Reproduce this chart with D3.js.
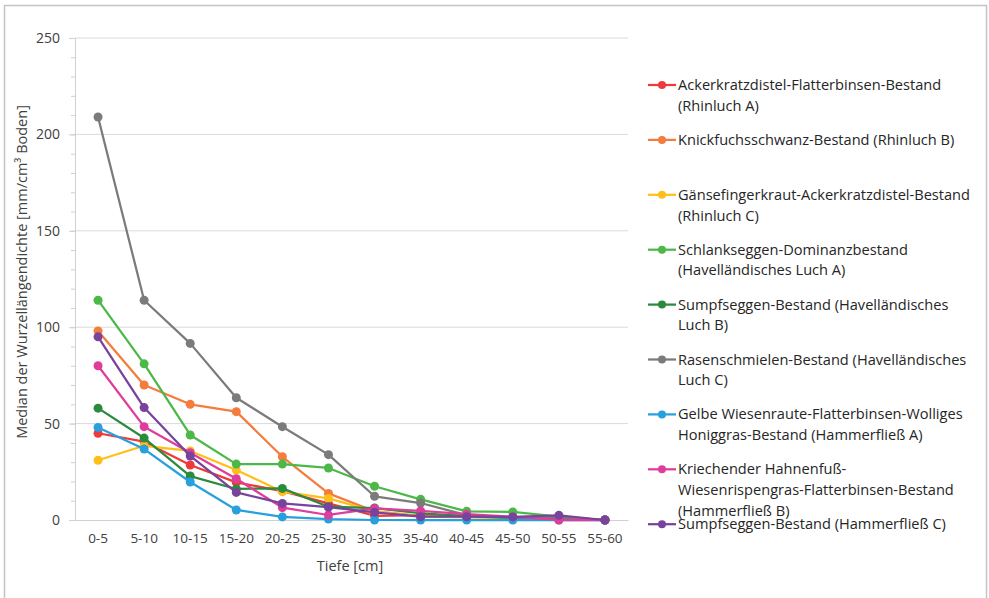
<!DOCTYPE html>
<html>
<head>
<meta charset="utf-8">
<script src="https://cdn.jsdelivr.net/npm/d3@7"></script>
<style>
  body { margin: 0; background: #fff; }
  svg { font-family: "Open Sans", "Noto Sans", sans-serif; }
</style>
</head>
<body>
<svg id="chart" width="989" height="598"></svg>
<script>
// depth classes on the x axis
var depths = ["0-5", "5-10", "10-15", "15-20", "20-25", "25-30", "30-35", "35-40", "40-45", "45-50", "50-55", "55-60"];
var yTicks = [0, 50, 100, 150, 200, 250];

// series names (legend lines split with \n)
var names = [
  "Ackerkratzdistel-Flatterbinsen-Bestand\n(Rhinluch A)",
  "Knickfuchsschwanz-Bestand (Rhinluch B)",
  "Gänsefingerkraut-Ackerkratzdistel-Bestand\n(Rhinluch C)",
  "Schlankseggen-Dominanzbestand\n(Havelländisches Luch A)",
  "Sumpfseggen-Bestand (Havelländisches\nLuch B)",
  "Rasenschmielen-Bestand (Havelländisches\nLuch C)",
  "Gelbe Wiesenraute-Flatterbinsen-Wolliges\nHoniggras-Bestand (Hammerfließ A)",
  "Kriechender Hahnenfuß-\nWiesenrispengras-Flatterbinsen-Bestand\n(Hammerfließ B)",
  "Sumpfseggen-Bestand (Hammerfließ C)"
];
var colors = ["#ee3a3a", "#f47c3c", "#ffbf1a", "#4cb848", "#2a8a3e", "#7b7b7b", "#27a0dd", "#df3d9b", "#77439c"];

// median root length density per depth
var rhinA   = [45, 40.6, 28.5, 19.5, 15, 8.6, 2.2, 2.5, 2.3, 1, 0.5, 0];
var rhinB   = [98, 70, 60, 56.2, 32.8, 13.8, 4.5, 2.2, 1.7, 1, 0.5, 0];
var rhinC   = [31, 38.5, 35.8, 25.9, 14.7, 11.2, 4.5, 1.7, 1.4, 1, 0.5, 0];
var havA    = [114, 81, 44.1, 29, 29, 27, 17.5, 10.7, 4.5, 4.2, 1.8, 0];
var havB    = [58, 42.5, 22.8, 16.1, 16.4, 6.9, 6.2, 3.5, 2, 1, 0.5, 0];
var havC    = [209, 114, 91.6, 63.4, 48.4, 33.9, 12.3, 8.8, 2.5, 1.2, 1.5, 0];
var hamA    = [48, 36.8, 19.7, 5.2, 1.6, 0.5, 0, 0, 0, 0, 0, 0];
var hamB    = [80, 48.4, 34.9, 21.4, 6.4, 2.6, 6, 4.7, 3, 1.6, 0, 0];
var hamC    = [95, 58.3, 33.2, 14.3, 8.6, 6.7, 4, 1.7, 1.7, 1.6, 2.4, 0];
var values = [rhinA, rhinB, rhinC, havA, havB, havC, hamA, hamB, hamC];

var svg = d3.select("#chart");

// outer frame
svg.append("rect")
  .attr("x", 4.5).attr("y", 5.5).attr("width", 982).attr("height", 600)
  .attr("fill", "none").attr("stroke", "#c4c4c4").attr("stroke-width", 1.5);

var plotLeft = 75, plotRight = 628, plotTop = 38, plotBottom = 520;

var x = d3.scaleBand().domain(depths).range([plotLeft, plotRight]);
var y = d3.scaleLinear().domain([0, 250]).range([plotBottom, plotTop]);

// gridlines
svg.append("g").selectAll("line")
  .data(yTicks.filter(function(d) { return d > 0; }))
  .enter().append("line")
    .attr("x1", plotLeft).attr("x2", plotRight)
    .attr("y1", function(d) { return y(d); })
    .attr("y2", function(d) { return y(d); })
    .attr("stroke", "#dadada").attr("stroke-width", 1);

// y axis with minor ticks
svg.append("g")
  .attr("transform", "translate(" + plotLeft + ",0)")
  .call(d3.axisLeft(y).tickValues(d3.range(0, 251, 10)).tickSize(4).tickFormat(""))
  .call(function(g) {
    g.select(".domain").attr("stroke", "#d0d0d0");
    g.selectAll(".tick line").attr("stroke", "#d0d0d0");
  });

svg.append("g")
  .attr("transform", "translate(" + plotLeft + ",0)")
  .call(d3.axisLeft(y).tickValues(yTicks).tickSize(6).tickPadding(9))
  .call(function(g) {
    g.select(".domain").remove();
    g.selectAll(".tick line").attr("stroke", "#d0d0d0");
    g.selectAll("text").attr("fill", "#404040").style("font-size", "14px").style("font-family", "Open Sans, sans-serif");
  });

// x axis
svg.append("g")
  .attr("transform", "translate(0," + plotBottom + ")")
  .call(d3.axisBottom(x).tickSize(0).tickPadding(13))
  .call(function(g) {
    g.select(".domain").attr("stroke", "#d0d0d0");
    g.selectAll("text").attr("fill", "#404040").style("font-size", "13.5px").style("font-family", "Open Sans, sans-serif");
  });

// axis titles
svg.append("text")
  .attr("transform", "translate(27,272) rotate(-90)")
  .attr("text-anchor", "middle")
  .style("font-size", "14.5px").attr("fill", "#404040")
  .text("Median der Wurzellängendichte [mm/cm³ Boden]");

svg.append("text")
  .attr("x", 350).attr("y", 571)
  .attr("text-anchor", "middle")
  .style("font-size", "14.5px").attr("fill", "#404040")
  .text("Tiefe [cm]");

// lines and markers
var line = d3.line()
  .x(function(d, i) { return x(depths[i]) + x.bandwidth() / 2; })
  .y(function(d) { return y(d); });

values.forEach(function(vals, s) {
  var g = svg.append("g");
  g.append("path")
    .attr("d", line(vals))
    .attr("fill", "none")
    .attr("stroke", colors[s])
    .attr("stroke-width", 2.25)
    .attr("stroke-linejoin", "round");
  g.selectAll("circle")
    .data(vals)
    .enter().append("circle")
      .attr("cx", function(d, i) { return x(depths[i]) + x.bandwidth() / 2; })
      .attr("cy", function(d) { return y(d); })
      .attr("r", 4.5)
      .attr("fill", colors[s]);
});

// legend
var legend = svg.append("g").attr("transform", "translate(648,85)");
names.forEach(function(name, i) {
  var row = legend.append("g").attr("transform", "translate(0," + (i * 54.9) + ")");
  row.append("line").attr("x1", 0).attr("x2", 28).attr("y1", 0).attr("y2", 0)
    .attr("stroke", colors[i]).attr("stroke-width", 2.25);
  row.append("circle").attr("cx", 14).attr("cy", 0).attr("r", 4).attr("fill", colors[i]);
  var t = row.append("text").attr("x", 30).attr("y", 5)
    .style("font-size", "14.6px").attr("fill", "#262626");
  name.split("\n").forEach(function(part, j) {
    t.append("tspan").attr("x", 30).attr("dy", j === 0 ? 0 : 20.8).text(part);
  });
});
</script>
</body>
</html>
